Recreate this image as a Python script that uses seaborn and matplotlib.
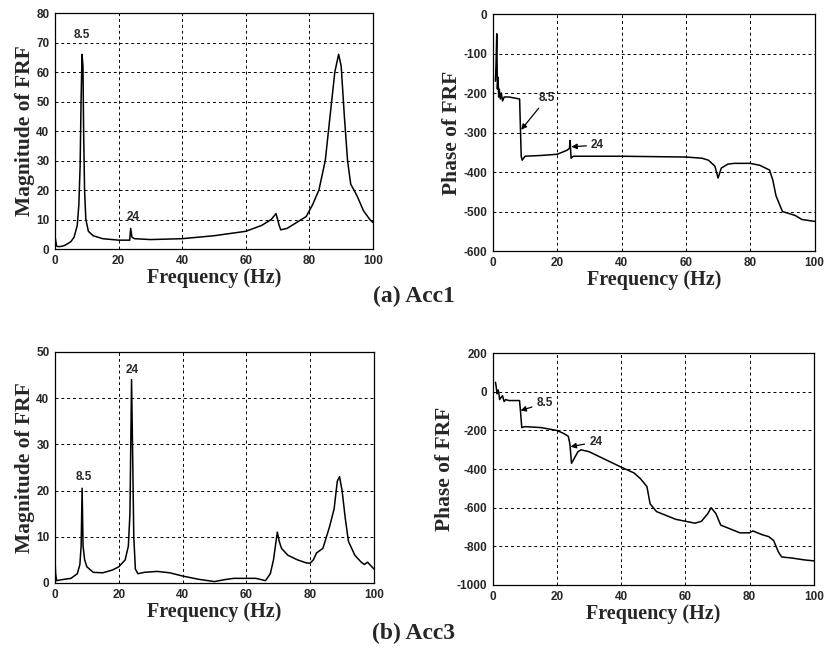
import numpy as np
import pandas as pd
import seaborn as sns
import matplotlib.pyplot as plt


# (a) Acc1 - magnitude
ACC1_MAG_FREQ = [0.0, 0.2, 0.5, 1, 2, 3, 4, 5, 6, 7, 7.5, 7.9, 8.2, 8.5, 8.8, 9.0, 9.3, 9.7,
                 10.5, 12, 15, 20, 23.5, 23.8, 24.2, 25, 30, 40, 50, 60, 65, 68, 69.5, 70.5,
                 71, 73, 76, 79, 81, 83, 85, 86.5, 88, 89.2, 90, 91, 92, 93, 95, 97, 99, 100]
ACC1_MAG_VAL = [4.5, 3.0, 1.0, 0.8, 0.9, 1.2, 1.8, 2.5, 4.0, 8.0, 15, 28, 50, 66, 62, 40, 20, 10,
                6.0, 4.5, 3.5, 3.0, 3.0, 7.0, 4.0, 3.5, 3.2, 3.5, 4.5, 6.0, 8.0, 10, 12, 8.0,
                6.5, 7.0, 9.0, 11, 15, 20, 30, 45, 60, 66, 62, 45, 30, 22, 18, 13, 10, 9.0]

# (a) Acc1 - phase
ACC1_PH_FREQ = [0.8, 1.0, 1.2, 1.4, 1.6, 1.8, 2.0, 2.3, 2.6, 3.0, 3.5, 5, 8.3, 8.6, 8.8, 9.1, 10,
                15, 20, 23, 23.8, 24.0, 24.3, 25, 40, 60, 65, 67, 69, 70, 71, 73, 75, 80, 83, 86,
                87, 88, 90, 92, 94, 96, 100]
ACC1_PH_VAL = [-170, -120, -50, -190, -160, -210, -190, -215, -200, -220, -210, -210, -215, -300,
               -360, -370, -360, -358, -355, -345, -340, -320, -365, -360, -360, -362, -365, -370,
               -385, -415, -390, -380, -378, -378, -383, -395, -420, -460, -500, -505, -510, -520,
               -525]

# (b) Acc3 - magnitude
ACC3_MAG_FREQ = [0.0, 0.2, 0.5, 2, 5, 7, 7.8, 8.2, 8.5, 8.8, 9.3, 10, 12, 15, 18, 20, 22, 23, 23.5,
                 24.0, 24.3, 24.7, 25.2, 26, 28, 32, 36, 40, 45, 50, 53, 56, 60, 63, 66, 67.5, 68.5,
                 69.7, 70.3, 71, 73, 76, 79, 80, 81, 82, 84, 86, 87.5, 88.5, 89.2, 90, 91, 92, 94,
                 96, 97, 98, 100]
ACC3_MAG_VAL = [5.0, 2.0, 0.5, 0.7, 1.0, 2.0, 4.0, 8.0, 20.5, 8.0, 5.0, 3.5, 2.3, 2.2, 2.8, 3.5,
                5.0, 8.0, 15, 44, 30, 10, 3.0, 2.0, 2.3, 2.5, 2.2, 1.5, 0.8, 0.3, 0.7, 1.0, 1.0,
                1.0, 0.5, 2.0, 5.0, 11, 9.0, 7.5, 6.0, 5.0, 4.3, 4.3, 5.0, 6.5, 7.5, 12, 16, 22,
                23, 20, 14, 9.0, 6.0, 4.5, 4.0, 4.5, 3.0]

# (b) Acc3 - phase
ACC3_PH_FREQ = [0.8, 1.0, 1.3, 1.6, 1.8, 2.1, 2.5, 3.0, 3.5, 4, 5, 8.3, 8.6, 9.0, 10, 15, 20, 22,
                23.5, 24.0, 24.5, 25.5, 26.5, 27.5, 30, 35, 40, 44, 46, 48, 49, 51, 54, 57, 60, 63,
                65, 67, 68, 69.5, 71, 74, 77, 80, 81, 84, 86, 87.5, 89, 90, 93, 97, 100]
ACC3_PH_VAL = [50, 30, -10, 10, 0, -40, -30, -20, -50, -40, -45, -45, -100, -185, -180, -185, -200,
               -215, -230, -270, -370, -340, -310, -300, -310, -350, -390, -420, -450, -490, -580,
               -620, -640, -660, -670, -680, -670, -630, -600, -630, -690, -710, -730, -730, -720,
               -740, -750, -770, -830, -855, -860, -870, -875]

FREQ_TICKS = [0, 20, 40, 60, 80, 100]


def draw_panel(ax, freq, val, ylabel, ylim, yticks):
    df = pd.DataFrame({"freq": freq, "val": val})
    sns.lineplot(data=df, x="freq", y="val", color="black", linewidth=1.1,
                 estimator=None, sort=False, ax=ax)
    ax.set_xlim(0, 100)
    ax.set_ylim(*ylim)
    ax.set_xticks(FREQ_TICKS)
    ax.set_yticks(yticks)
    ax.grid(True, color="black", linestyle=(0, (3, 3)), linewidth=0.7)
    ax.tick_params(direction="in", length=3, labelsize=8.5, pad=4)
    for lab in ax.get_xticklabels() + ax.get_yticklabels():
        lab.set_fontfamily("Liberation Sans")
        lab.set_fontweight("bold")
    for sp in ax.spines.values():
        sp.set_visible(True)
        sp.set_color("black")
        sp.set_linewidth(0.9)
    ax.set_xlabel("Frequency (Hz)", fontsize=14.5, fontweight="bold", labelpad=1)
    ax.set_ylabel(ylabel, fontsize=15.5, fontweight="bold", labelpad=1)


def label(ax, txt, x, y):
    ax.text(x, y, txt, fontsize=8.5, fontweight="bold", family="Liberation Sans",
            ha="center", va="center")


def arrow_label(ax, txt, xy, xytext):
    ax.annotate(txt, xy=xy, xytext=xytext, fontsize=8.5, fontweight="bold",
                family="Liberation Sans", ha="left", va="center",
                arrowprops=dict(arrowstyle="-|>", color="black", lw=0.9,
                                mutation_scale=8, shrinkA=1, shrinkB=0))


def main():
    sns.set_theme(style="white")
    plt.rcParams["font.family"] = ["Liberation Serif", "DejaVu Serif"]
    plt.rcParams["axes.unicode_minus"] = False

    fig = plt.figure(figsize=(8.27, 6.51), dpi=100)
    ax_tl = fig.add_axes([0.0665, 0.6175, 0.3845, 0.3625])
    ax_tr = fig.add_axes([0.596, 0.6144, 0.389, 0.364])
    ax_bl = fig.add_axes([0.0665, 0.1045, 0.3857, 0.355])
    ax_br = fig.add_axes([0.596, 0.1014, 0.388, 0.356])

    draw_panel(ax_tl, ACC1_MAG_FREQ, ACC1_MAG_VAL, "Magnitude of FRF", (0, 80),
               [0, 10, 20, 30, 40, 50, 60, 70, 80])
    label(ax_tl, "8.5", 8.4, 72.5)
    label(ax_tl, "24", 24.6, 11)

    draw_panel(ax_tr, ACC1_PH_FREQ, ACC1_PH_VAL, "Phase of FRF", (-600, 0),
               [-600, -500, -400, -300, -200, -100, 0])
    arrow_label(ax_tr, "8.5", (8.8, -293), (14.3, -212))
    arrow_label(ax_tr, "24", (24.4, -336), (30.5, -332))

    draw_panel(ax_bl, ACC3_MAG_FREQ, ACC3_MAG_VAL, "Magnitude of FRF", (0, 50),
               [0, 10, 20, 30, 40, 50])
    label(ax_bl, "8.5", 8.9, 23)
    label(ax_bl, "24", 24.3, 46)

    draw_panel(ax_br, ACC3_PH_FREQ, ACC3_PH_VAL, "Phase of FRF", (-1000, 200),
               [-1000, -800, -600, -400, -200, 0, 200])
    arrow_label(ax_br, "8.5", (8.6, -97), (13.6, -58))
    arrow_label(ax_br, "24", (24.2, -284), (30.0, -260))

    fig.text(0.5, 1 - 296 / 651, "(a) Acc1", ha="center", va="center",
             fontsize=17, fontweight="bold")
    fig.text(0.5, 1 - 633 / 651, "(b) Acc3", ha="center", va="center",
             fontsize=17, fontweight="bold")

    fig.savefig("out.png", dpi=100)
    plt.close(fig)


if __name__ == "__main__":
    main()
